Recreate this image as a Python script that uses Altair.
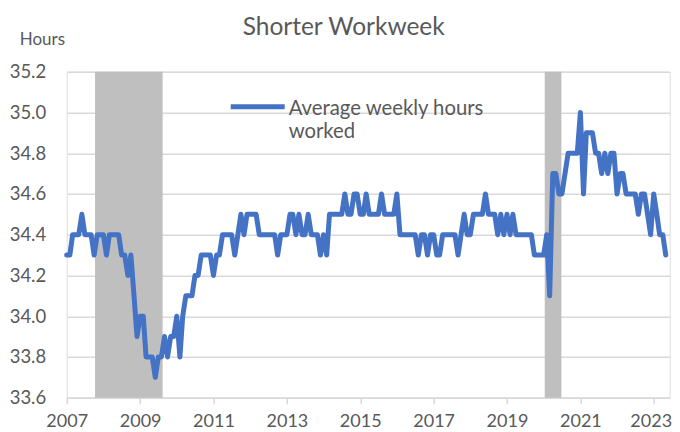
import altair as alt
import pandas as pd

# Average weekly hours, monthly, Jan 2007 - May 2023
hours_2007 = [34.3, 34.3, 34.4, 34.4, 34.4, 34.5, 34.4, 34.4, 34.4, 34.3, 34.4, 34.4]
hours_2008 = [34.4, 34.3, 34.4, 34.4, 34.4, 34.4, 34.3, 34.3, 34.2, 34.3, 34.1, 33.9]
hours_2009 = [34.0, 34.0, 33.8, 33.8, 33.8, 33.7, 33.8, 33.8, 33.9, 33.8, 33.9, 33.9]
hours_2010 = [34.0, 33.8, 34.0, 34.1, 34.1, 34.1, 34.2, 34.2, 34.3, 34.3, 34.3, 34.3]
hours_2011 = [34.2, 34.3, 34.3, 34.4, 34.4, 34.4, 34.4, 34.3, 34.4, 34.5, 34.4, 34.5]
hours_2012 = [34.5, 34.5, 34.5, 34.4, 34.4, 34.4, 34.4, 34.4, 34.4, 34.3, 34.4, 34.4]
hours_2013 = [34.4, 34.5, 34.5, 34.4, 34.5, 34.4, 34.4, 34.5, 34.4, 34.4, 34.4, 34.3]
hours_2014 = [34.4, 34.3, 34.5, 34.5, 34.5, 34.5, 34.5, 34.6, 34.5, 34.5, 34.6, 34.6]
hours_2015 = [34.5, 34.5, 34.6, 34.5, 34.5, 34.5, 34.5, 34.6, 34.5, 34.5, 34.5, 34.5]
hours_2016 = [34.6, 34.4, 34.4, 34.4, 34.4, 34.4, 34.4, 34.3, 34.4, 34.4, 34.3, 34.4]
hours_2017 = [34.4, 34.3, 34.3, 34.4, 34.4, 34.4, 34.4, 34.4, 34.3, 34.4, 34.5, 34.4]
hours_2018 = [34.4, 34.5, 34.5, 34.5, 34.5, 34.6, 34.5, 34.5, 34.5, 34.4, 34.5, 34.4]
hours_2019 = [34.5, 34.4, 34.5, 34.4, 34.4, 34.4, 34.4, 34.4, 34.4, 34.3, 34.3, 34.3]
hours_2020 = [34.3, 34.4, 34.1, 34.7, 34.7, 34.6, 34.6, 34.7, 34.8, 34.8, 34.8, 34.8]
hours_2021 = [35.0, 34.6, 34.9, 34.9, 34.9, 34.8, 34.8, 34.7, 34.8, 34.7, 34.8, 34.8]
hours_2022 = [34.6, 34.7, 34.7, 34.6, 34.6, 34.6, 34.6, 34.5, 34.6, 34.6, 34.5, 34.4]
hours_2023 = [34.6, 34.5, 34.4, 34.4, 34.3]

title_text = "Shorter Workweek"
y_title = "Hours"
series_name = "Average weekly hours\nworked"

recession_start = ["2007-10-10T00:00:00", "2020-01-12T00:00:00"]
recession_end = ["2009-08-13T00:00:00", "2020-06-26T00:00:00"]

tick_years = [2007, 2009, 2011, 2013, 2015, 2017, 2019, 2021, 2023]
y_ticks = [33.6, 33.8, 34.0, 34.2, 34.4, 34.6, 34.8, 35.0, 35.2]

hours = (hours_2007 + hours_2008 + hours_2009 + hours_2010 + hours_2011 + hours_2012
         + hours_2013 + hours_2014 + hours_2015 + hours_2016 + hours_2017 + hours_2018
         + hours_2019 + hours_2020 + hours_2021 + hours_2022 + hours_2023)
dates = pd.date_range("2007-01-01", periods=len(hours), freq="MS").strftime("%Y-%m-%dT00:00:00")
df = pd.DataFrame({"date": list(dates), "hours": hours})
rec = pd.DataFrame({"start": recession_start, "end": recession_end})

FONT = "Lato"
TXT = "#595959"

x_domain = [alt.DateTime(year=2007, month=1, date=1), alt.DateTime(year=2023, month=6, date=9)]
x_scale = alt.Scale(domain=x_domain)
y_scale = alt.Scale(domain=[33.6, 35.2], nice=False, zero=False)

shade = alt.Chart(rec).mark_rect(color="#BFBFBF").encode(
    x=alt.X("start:T", scale=x_scale,
            axis=alt.Axis(values=[alt.DateTime(year=yy, month=1, date=1) for yy in tick_years],
                          format="%Y", title=None, grid=False, domainColor="#D9D9D9",
                          domainWidth=1.5, tickColor="#D9D9D9", tickSize=6, tickWidth=1.5,
                          labelFont=FONT, labelFontSize=18, labelColor=TXT, labelPadding=9,
                          labelOffset={"condition": {"test": "year(datum.value) == 2023",
                                                     "value": -3}, "value": 0},
                          labelFlush=False, labelOverlap=False)),
    x2="end:T",
)

line = alt.Chart(df).mark_line(color="#4472C4", strokeWidth=5, strokeJoin="round",
                               strokeCap="round").encode(
    x=alt.X("date:T", scale=x_scale),
    y=alt.Y("hours:Q", scale=y_scale,
            axis=alt.Axis(values=y_ticks, format=".1f", title=None,
                          grid=True, gridColor="#D9D9D9", gridWidth=1.5,
                          domain=False, ticks=False, labelFont=FONT, labelFontSize=18.5,
                          labelColor=TXT, labelPadding=21)),
)

title_mark = alt.Chart(pd.DataFrame({"t": [title_text]})).mark_text(
    align="center", baseline="middle", font=FONT, fontSize=24.5, color=TXT
).encode(x=alt.value(277), y=alt.value(-44), text="t:N")

ytitle_mark = alt.Chart(pd.DataFrame({"t": [y_title]})).mark_text(
    align="left", baseline="middle", font=FONT, fontSize=17, color=TXT
).encode(x=alt.value(-47), y=alt.value(-32), text="t:N")

legend_line = alt.Chart(df.head(1)).mark_rule(color="#4472C4", strokeWidth=5).encode(
    x=alt.value(164), x2=alt.value(218), y=alt.value(35)
)
legend_text = alt.Chart(pd.DataFrame({"t": [series_name]})).mark_text(
    align="left", baseline="middle", font=FONT, fontSize=20.3, color=TXT,
    lineBreak="\n", lineHeight=23
).encode(x=alt.value(222), y=alt.value(37), text="t:N")

chart = alt.layer(shade, line, legend_line, legend_text, title_mark, ytitle_mark).properties(
    width=603, height=326,
    autosize=alt.AutoSizeParams(type="none"),
    padding={"left": 58.7, "top": 63.7, "right": 2.3, "bottom": 34},
).configure_view(stroke=None).configure(background="white")

chart.save("out.html", embed_options={"renderer": "svg", "actions": False})
